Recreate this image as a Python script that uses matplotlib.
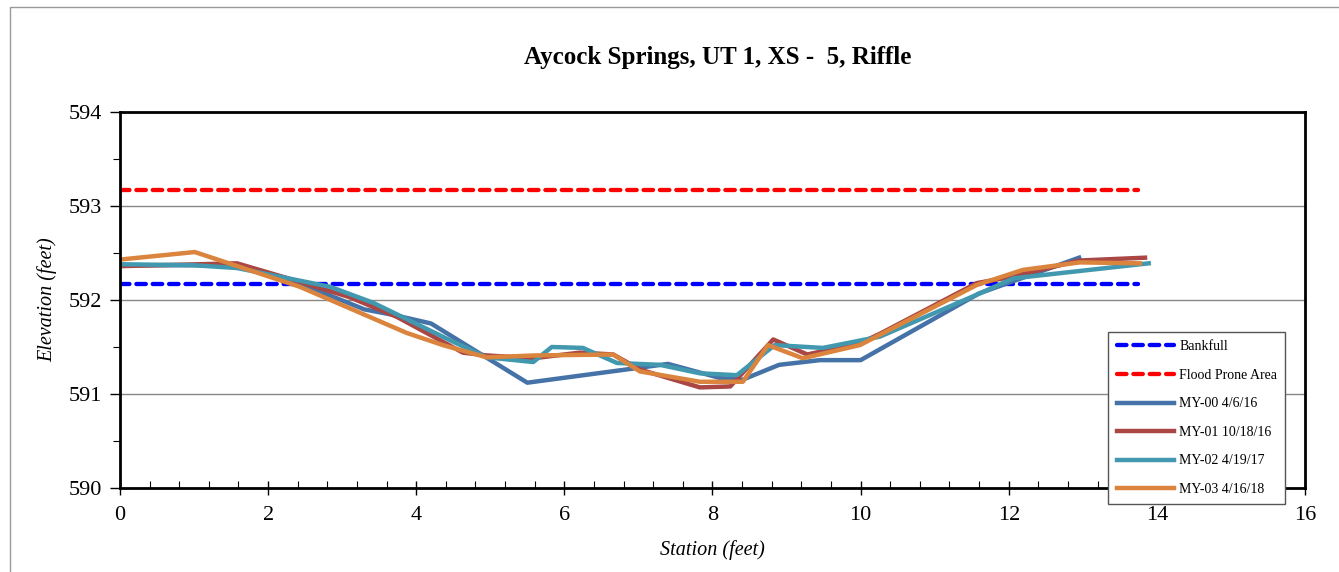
import numpy as np
import matplotlib
matplotlib.use("Agg")
import matplotlib.pyplot as plt
from matplotlib.ticker import MultipleLocator
from matplotlib.patches import Rectangle

plt.rcParams['font.family'] = ['Liberation Serif', 'DejaVu Serif']

# bankfull / flood prone elevations
bankfull_x = [0.0, 13.75]
bankfull_y = [592.17, 592.17]
flood_x = [0.0, 13.75]
flood_y = [593.17, 593.17]

# surveys
my00_x = [0.0, 1.0, 1.6, 2.0, 2.45, 3.3, 3.7, 4.2, 5.5, 7.4, 8.1, 8.4, 8.9, 9.45, 10.0, 11.6, 12.95]
my00_y = [592.37, 592.37, 592.36, 592.28, 592.17, 591.9, 591.84, 591.75, 591.12, 591.32, 591.17, 591.15,
          591.31, 591.36, 591.36, 592.07, 592.45]

my01_x = [0.0, 1.58, 2.4, 3.1, 3.74, 4.63, 4.95, 5.58, 6.21, 6.66, 7.02, 7.83, 8.24, 8.82, 9.28, 9.99,
          10.26, 11.57, 12.0, 12.96, 13.84]
my01_y = [592.36, 592.39, 592.2, 592.03, 591.82, 591.44, 591.41, 591.38, 591.44, 591.42, 591.26, 591.07,
          591.08, 591.58, 591.42, 591.54, 591.64, 592.18, 592.24, 592.42, 592.45]

my02_x = [0.0, 0.99, 1.58, 2.84, 3.01, 3.42, 4.46, 4.95, 5.58, 5.83, 6.25, 6.71, 7.29, 7.83, 8.33, 8.84,
          9.49, 10.26, 11.61, 12.06, 13.89]
my02_y = [592.38, 592.37, 592.34, 592.14, 592.09, 591.97, 591.57, 591.39, 591.34, 591.5, 591.49, 591.33,
          591.31, 591.22, 591.2, 591.52, 591.49, 591.61, 592.07, 592.23, 592.39]

my03_x = [0.0, 1.01, 2.43, 3.87, 4.36, 4.95, 5.6, 6.66, 7.02, 7.83, 8.41, 8.75, 9.22, 9.99, 11.57, 12.19,
          12.96, 13.77]
my03_y = [592.43, 592.51, 592.14, 591.65, 591.52, 591.39, 591.41, 591.42, 591.24, 591.13, 591.13, 591.52,
          591.38, 591.52, 592.16, 592.32, 592.4, 592.39]

fig = plt.figure(figsize=(13.39, 5.72), dpi=100)
ax = fig.add_axes([0.0896, 0.1469, 0.8850, 0.6573])

fig.patches.append(Rectangle((10 / 1339, -0.1), 1.2, 1 - 7 / 572 + 0.1, transform=fig.transFigure,
                             fill=False, edgecolor='#999999', linewidth=1.0))

dash = dict(linewidth=3.1, dashes=(2.2, 1.6), dash_capstyle='round')
ax.plot(bankfull_x, bankfull_y, color='#0000FF', label='Bankfull', **dash)
ax.plot(flood_x, flood_y, color='#FF0000', label='Flood Prone Area', **dash)
ax.plot(my00_x, my00_y, color='#4572A7', linewidth=3.2, label='MY-00 4/6/16')
ax.plot(my01_x, my01_y, color='#AA4643', linewidth=3.2, label='MY-01 10/18/16')
ax.plot(my02_x, my02_y, color='#4198AF', linewidth=3.2, label='MY-02 4/19/17')
ax.plot(my03_x, my03_y, color='#DB843D', linewidth=3.2, label='MY-03 4/16/18')

ax.set_xlim(0, 16)
ax.set_ylim(590, 594)
ax.xaxis.set_major_locator(MultipleLocator(2))
ax.xaxis.set_minor_locator(MultipleLocator(0.4))
ax.yaxis.set_major_locator(MultipleLocator(1))
ax.yaxis.set_minor_locator(MultipleLocator(0.5))
ax.grid(axis='y', which='major', color='#888888', linewidth=1)
ax.set_axisbelow(True)

ax.tick_params(axis='x', which='major', direction='inout', length=10, width=1, labelsize=16, pad=8)
ax.tick_params(axis='x', which='minor', direction='in', length=5, width=0.8)
ax.tick_params(axis='y', which='major', direction='out', length=7, width=1, labelsize=16, pad=6)
ax.tick_params(axis='y', which='minor', direction='out', length=5, width=0.8)
for s in ax.spines.values():
    s.set_linewidth(2)
    s.set_color('black')

ax.set_xlabel('Station (feet)', fontsize=14.5, style='italic', labelpad=11)
ax.set_ylabel('Elevation (feet)', fontsize=14.5, style='italic', labelpad=8)
fig.text(0.536, 0.9, 'Aycock Springs, UT 1, XS -  5, Riffle', ha='center', va='center',
         fontsize=18, fontweight='bold')

leg = ax.legend(loc='upper left', bbox_to_anchor=(0.834, 0.415), borderaxespad=0, fontsize=10,
                handlelength=4.1, handletextpad=0.4, labelspacing=1.12, borderpad=0.6,
                fancybox=False, framealpha=1, edgecolor='#555555')
leg.get_frame().set_linewidth(1)

fig.savefig('out.png', dpi=100)
